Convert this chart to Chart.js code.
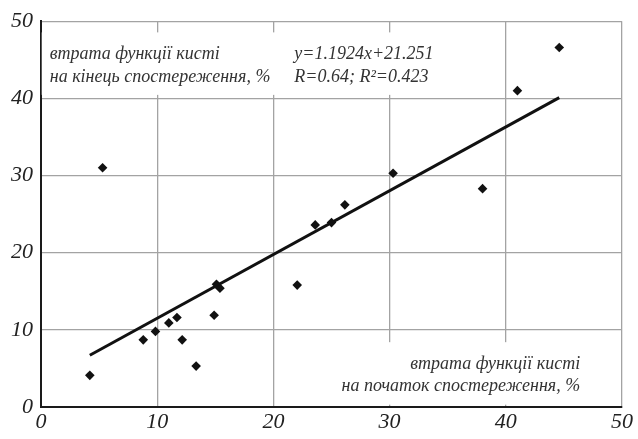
<!DOCTYPE html>
<html>
<head>
<meta charset="utf-8">
<script src="https://cdn.jsdelivr.net/npm/chart.js@4"></script>
<style>
  html, body { margin: 0; padding: 0; background: #fff; }
  canvas { display: block; }
</style>
</head>
<body>
<canvas id="chartKisti" width="638" height="439"></canvas>
<script>
// втрата функції кисті: на початок (x) і на кінець (y) спостереження, %
const startLoss = [4.2, 5.3, 8.8, 9.85, 11.0, 11.7, 12.15, 13.35, 14.9, 15.1, 15.4, 22.05, 23.6, 25.0, 26.15, 30.3, 38.0, 41.0, 44.6];
const endLoss   = [4.1, 31.0, 8.7, 9.8, 10.9, 11.6, 8.7, 5.3, 11.9, 15.9, 15.4, 15.8, 23.6, 23.9, 26.2, 30.3, 28.3, 41.0, 46.6];

// лінія тренду, як намальована
const trendX = [4.2, 44.6];
const trendY = [6.7, 40.1];

const tickValues = [0, 10, 20, 30, 40, 50];

const serif = "'Liberation Serif', 'DejaVu Serif', serif";

const notes = [
  { lines: ['втрата функції кисті', 'на кінець спостереження, %'], x: 0.75, y: 45.7, align: 'left' },
  { lines: ['y=1.1924x+21.251', 'R=0.64; R²=0.423'], x: 21.8, y: 45.7, align: 'left' },
  { lines: ['втрата функції кисті', 'на початок спостереження, %'], x: 46.4, y: 5.55, align: 'right' }
];

Chart.defaults.font.family = serif;
Chart.defaults.font.style = 'italic';

const notesPlugin = {
  id: 'notes',
  beforeDatasetsDraw(chart) {
    const ctx = chart.ctx;
    const xs = chart.scales.x;
    const ys = chart.scales.y;
    const lineGap = 22.5;

    ctx.save();
    ctx.font = 'italic 18px ' + serif;
    ctx.textBaseline = 'middle';

    notes.forEach(n => {
      const px = xs.getPixelForValue(n.x);
      const py = ys.getPixelForValue(n.y);
      const w = Math.max(...n.lines.map(t => ctx.measureText(t).width));
      const left = n.align === 'left' ? px : px - w;

      ctx.fillStyle = '#fff';
      ctx.fillRect(left - 8, py - 22, w + 16, lineGap * (n.lines.length - 1) + 40);

      ctx.fillStyle = '#333';
      ctx.textAlign = n.align;
      n.lines.forEach((t, i) => {
        ctx.fillText(t, px, py + i * lineGap);
      });
    });
    ctx.restore();
  }
};

const ctx = document.getElementById('chartKisti').getContext('2d');

new Chart(ctx, {
  type: 'scatter',
  data: {
    datasets: [
      {
        label: 'пацієнти',
        data: startLoss.map((v, i) => ({ x: v, y: endLoss[i] })),
        backgroundColor: '#111',
        borderWidth: 0,
        pointStyle: 'rectRot',
        pointRadius: 4.8,
        pointHoverRadius: 4.8
      },
      {
        type: 'line',
        label: 'тренд',
        data: trendX.map((v, i) => ({ x: v, y: trendY[i] })),
        borderColor: '#111',
        borderWidth: 3,
        pointRadius: 0,
        fill: false
      }
    ]
  },
  options: {
    responsive: false,
    animation: false,
    layout: {
      padding: { top: 13, right: 16, left: 0, bottom: 0 }
    },
    plugins: {
      legend: { display: false },
      tooltip: { enabled: false }
    },
    scales: {
      x: {
        type: 'linear',
        min: 0,
        max: 50,
        afterBuildTicks: s => { s.ticks = tickValues.map(v => ({ value: v })); },
        afterFit: s => { s.height = 32; },
        grid: { color: '#a3a3a3', lineWidth: 1.3, drawTicks: false },
        border: { color: '#1a1a1a', width: 2 },
        ticks: {
          padding: 2,
          color: '#222',
          font: { family: serif, style: 'italic', size: 22 }
        }
      },
      y: {
        type: 'linear',
        min: 0,
        max: 50,
        afterBuildTicks: s => { s.ticks = tickValues.map(v => ({ value: v })); },
        afterFit: s => { s.width = 41; },
        grid: { color: '#a3a3a3', lineWidth: 1.3, drawTicks: false },
        border: { color: '#1a1a1a', width: 2 },
        ticks: {
          padding: 8,
          color: '#222',
          font: { family: serif, style: 'italic', size: 22 }
        }
      }
    }
  },
  plugins: [notesPlugin]
});
</script>
</body>
</html>
